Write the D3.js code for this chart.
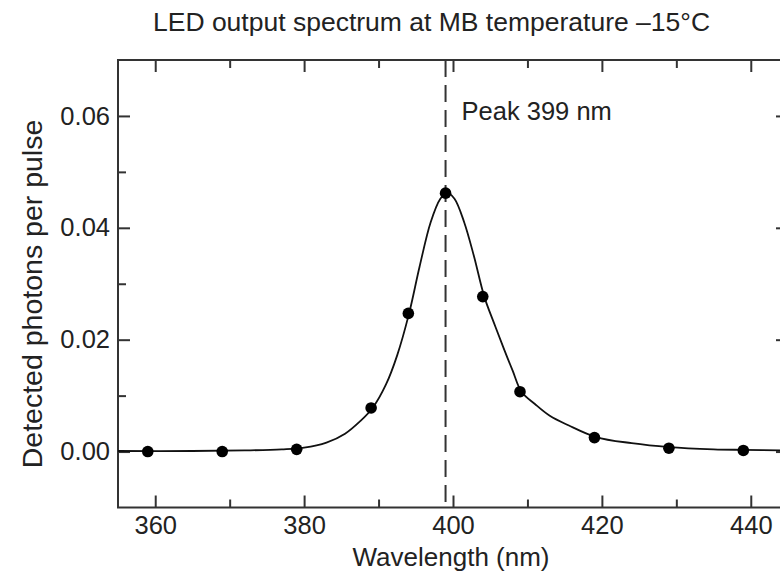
<!DOCTYPE html>
<html>
<head>
<meta charset="utf-8">
<script src="https://cdn.jsdelivr.net/npm/d3@7"></script>
<style>
  body { margin: 0; background: #fff; }
  svg { font-family: "Liberation Sans", Arial, Helvetica, sans-serif; }
  .axis text { font-size: 25.5px; fill: #222; }
  .axis line { stroke: #333; stroke-width: 2; }
</style>
</head>
<body>
<svg id="chart" width="780" height="580"></svg>
<script>
(function(){
  // measured points
  var wavelengths = [359, 369, 379, 389, 394, 399, 404, 409, 419, 429, 439]
  var photons = [0.0000, 0.0000, 0.0004, 0.0078, 0.0247, 0.0462, 0.0277, 0.0107, 0.0025, 0.0006, 0.0002]

  // fitted curve
  var fitWavelengths = [355, 365, 372, 377, 380, 383, 385.5, 387.5, 389.2, 391, 392.5, 394.1, 395.5, 397, 398.3, 399.2, 400.2, 401.5, 402.8, 404.2, 405.5, 406.8, 408, 409.2, 411, 413, 415.5, 419.2, 424, 429, 435, 439, 445]
  var fitValues = [0.0001, 0.0001, 0.0002, 0.0004, 0.0007, 0.0016, 0.0032, 0.0054, 0.0078, 0.0120, 0.0172, 0.0247, 0.0330, 0.0410, 0.0452, 0.0463, 0.0452, 0.0410, 0.0350, 0.0277, 0.0230, 0.0185, 0.0145, 0.0107, 0.0085, 0.0064, 0.0047, 0.0026, 0.0015, 0.0008, 0.0004, 0.0003, 0.0002]

  var xMajor = [360, 380, 400, 420, 440]
  var xMinor = [370, 390, 410, 430]
  var yMajor = [0.00, 0.02, 0.04, 0.06]
  var yMinor = [0.01, 0.03, 0.05]
  var peakWl = 399

  var svg = d3.select('#chart')
  var left = 118, right = 788, top = 60, bottom = 507.5

  var x = d3.scaleLinear().domain([355, 445]).range([left, right])
  var y = d3.scaleLinear().domain([-0.01, 0.07]).range([bottom, top])

  svg.append('defs').append('clipPath').attr('id', 'plot-clip')
    .append('rect').attr('x', left).attr('y', top)
    .attr('width', right - left).attr('height', bottom - top)

  // axes, ticks pointing inwards
  var fmtY = d3.format('.2f')
  function addAxis(axis, tx, ty, labels) {
    var g = svg.append('g').attr('class', 'axis')
      .attr('transform', 'translate(' + tx + ',' + ty + ')')
      .call(axis)
    g.select('.domain').remove()
    if (!labels) g.selectAll('text').remove()
    return g
  }
  addAxis(d3.axisBottom(x).tickValues(xMajor).tickSize(-12).tickSizeOuter(0).tickPadding(8), 0, bottom, true)
  addAxis(d3.axisBottom(x).tickValues(xMinor).tickSize(-8).tickSizeOuter(0), 0, bottom, false)
  addAxis(d3.axisTop(x).tickValues(xMajor).tickSize(-12).tickSizeOuter(0), 0, top, false)
  addAxis(d3.axisTop(x).tickValues(xMinor).tickSize(-8).tickSizeOuter(0), 0, top, false)
  addAxis(d3.axisLeft(y).tickValues(yMajor).tickSize(-12).tickSizeOuter(0).tickPadding(8).tickFormat(fmtY), left, 0, true)
  addAxis(d3.axisLeft(y).tickValues(yMinor).tickSize(-8).tickSizeOuter(0), left, 0, false)
  addAxis(d3.axisRight(y).tickValues(yMajor).tickSize(-12).tickSizeOuter(0), right, 0, false)
  addAxis(d3.axisRight(y).tickValues(yMinor).tickSize(-8).tickSizeOuter(0), right, 0, false)

  // frame
  svg.append('rect')
    .attr('x', left).attr('y', top)
    .attr('width', right - left).attr('height', bottom - top)
    .attr('fill', 'none').attr('stroke', '#333').attr('stroke-width', 2)

  // peak marker
  svg.append('line')
    .attr('x1', x(peakWl)).attr('x2', x(peakWl))
    .attr('y1', top).attr('y2', bottom)
    .attr('stroke', '#333').attr('stroke-width', 2)
    .attr('stroke-dasharray', '17,8')

  svg.append('text')
    .attr('x', x(peakWl) + 16).attr('y', 120)
    .attr('font-size', '25.5px').attr('fill', '#222')
    .text('Peak ' + peakWl + ' nm')

  // fitted curve
  var line = d3.line()
    .x(function(d) { return x(d[0]) })
    .y(function(d) { return y(d[1]) })
    .curve(d3.curveCatmullRom.alpha(0.5))

  svg.append('path')
    .datum(fitWavelengths.map(function(w, i) { return [w, fitValues[i]] }))
    .attr('clip-path', 'url(#plot-clip)')
    .attr('d', line)
    .attr('fill', 'none').attr('stroke', '#111').attr('stroke-width', 1.8)

  svg.append('g').selectAll('circle')
    .data(wavelengths).enter()
    .append('circle')
    .attr('cx', function(d) { return x(d) })
    .attr('cy', function(d, i) { return y(photons[i]) })
    .attr('r', 5.8)
    .attr('fill', '#000')

  // titles
  svg.append('text')
    .attr('x', 431.5).attr('y', 31)
    .attr('text-anchor', 'middle').attr('font-size', '26.5px').attr('fill', '#222')
    .text('LED output spectrum at MB temperature \u201315\u00B0C')

  svg.append('text')
    .attr('x', 451).attr('y', 566)
    .attr('text-anchor', 'middle').attr('font-size', '26px').attr('fill', '#222')
    .text('Wavelength (nm)')

  svg.append('text')
    .attr('transform', 'translate(42,' + 294 + ') rotate(-90)')
    .attr('text-anchor', 'middle').attr('font-size', '28.5px').attr('fill', '#222')
    .text('Detected photons per pulse')
})()
</script>
</body>
</html>
